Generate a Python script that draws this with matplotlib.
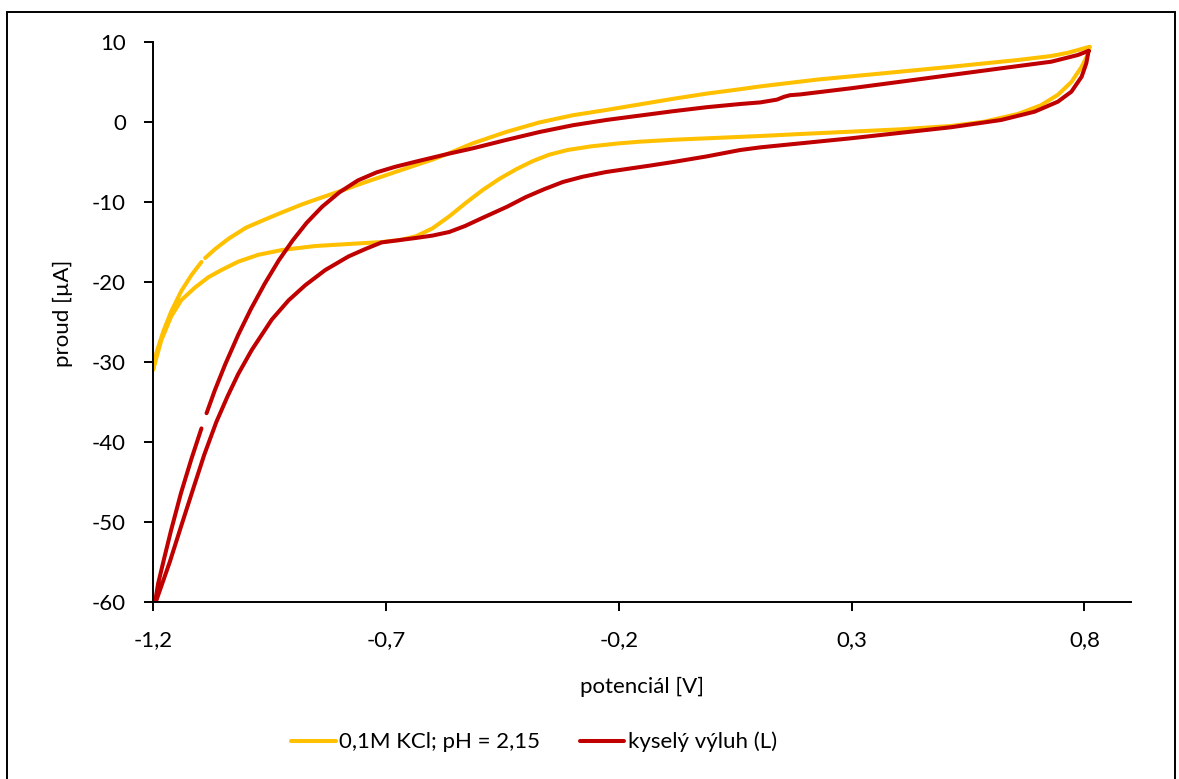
import matplotlib
matplotlib.use('Agg')
import matplotlib.pyplot as plt
from matplotlib.patches import Rectangle
import numpy as np

plt.rcParams['font.family'] = ['Lato', 'DejaVu Sans']

nan = np.nan

# 0,1M KCl; pH = 2,15  (potential [V], current [uA]) - one loop, gap kept as nan
kcl_v = [0.811, 0.807, 0.794, 0.772, 0.743, 0.707, 0.657, 0.585, 0.513, 0.406,
         0.298, 0.190, 0.104, -0.011, -0.083, -0.155, -0.205, -0.260, -0.310, -0.350,
         -0.385, -0.420, -0.456, -0.492, -0.528, -0.564, -0.600, -0.636, -0.670, -0.708,
         -0.780, -0.851, -0.923, -0.974, -1.017, -1.053, -1.081, -1.110, -1.139, -1.161,
         -1.182, -1.200,
         -1.193, -1.178, -1.161, -1.139, -1.117, -1.096, nan,
         -1.088, -1.067, -1.038, -1.000, -0.960, -0.923, -0.880, -0.851, -0.801, -0.743,
         -0.672, -0.600, -0.564, -0.515, -0.442, -0.370, -0.298, -0.227, -0.155, -0.083,
         -0.011, 0.061, 0.104, 0.226, 0.370, 0.513, 0.657, 0.729, 0.765, 0.811]
kcl_i = [9.4, 8.4, 6.9, 5.0, 3.4, 2.1, 1.0, 0.04, -0.5, -0.91,
         -1.21, -1.5, -1.75, -2.04, -2.22, -2.46, -2.7, -3.05, -3.5, -4.1,
         -4.9, -5.9, -7.1, -8.5, -10.1, -11.8, -13.3, -14.3, -14.75, -15.0,
         -15.25, -15.5, -16.0, -16.6, -17.46, -18.5, -19.4, -20.7, -22.25, -24.3,
         -27.25, -31.0,
         -28.9, -26.2, -23.7, -21.1, -19.1, -17.5, nan,
         -17.0, -15.9, -14.6, -13.2, -12.2, -11.3, -10.3, -9.7, -8.7, -7.5,
         -6.1, -4.7, -3.9, -2.7, -1.25, -0.05, 0.85, 1.5, 2.2, 2.9,
         3.55, 4.1, 4.45, 5.3, 6.1, 6.9, 7.75, 8.25, 8.66, 9.4]

# kyselý výluh (L)
leach_v = [0.809, 0.804, 0.794, 0.772, 0.743, 0.693, 0.621, 0.513, 0.298, 0.104,
           0.061, -0.011, -0.083, -0.133, -0.180, -0.227, -0.278, -0.320, -0.360, -0.400,
           -0.440, -0.493, -0.530, -0.564, -0.600, -0.636, -0.709, -0.745, -0.780, -0.830,
           -0.873, -0.909, -0.945, -0.988, -1.017, -1.040, -1.064, -1.090, -1.114, -1.140,
           -1.164, -1.197,
           -1.189, -1.175, -1.161, -1.140, -1.118, -1.096, nan,
           -1.085, -1.067, -1.045, -1.017, -0.990, -0.960, -0.930, -0.900, -0.870, -0.837,
           -0.800, -0.760, -0.720, -0.680, -0.636, -0.564, -0.514, -0.442, -0.370, -0.298,
           -0.227, -0.155, -0.083, -0.011, 0.061, 0.104, 0.140, 0.155, 0.168, 0.190,
           0.298, 0.406, 0.513, 0.621, 0.729, 0.786, 0.809]
leach_i = [8.9, 7.34, 5.66, 3.79, 2.54, 1.29, 0.25, -0.66, -2.04, -3.17,
           -3.5, -4.3, -5.0, -5.45, -5.85, -6.25, -6.85, -7.5, -8.4, -9.4,
           -10.6, -12.0, -13.0, -13.75, -14.2, -14.5, -15.05, -15.9, -16.8, -18.5,
           -20.4, -22.3, -24.7, -28.5, -31.5, -34.3, -37.5, -41.6, -45.9, -50.6,
           -55.0, -60.5,
           -57.7, -54.3, -51.0, -46.4, -42.2, -38.3, nan,
           -36.4, -33.5, -30.3, -26.6, -23.4, -20.2, -17.3, -14.8, -12.6, -10.6,
           -8.8, -7.3, -6.3, -5.6, -4.96, -3.95, -3.3, -2.25, -1.25, -0.4,
           0.25, 0.8, 1.35, 1.85, 2.25, 2.45, 2.8, 3.15, 3.35, 3.45,
           4.21, 5.04, 5.875, 6.71, 7.54, 8.375, 8.9]

x_ticks = [-1.2, -0.7, -0.2, 0.3, 0.8]
x_ticklabels = ['-1,2', '-0,7', '-0,2', '0,3', '0,8']
y_ticks = [-60, -50, -40, -30, -20, -10, 0, 10]

W, H = 1179, 779
fig = plt.figure(figsize=(W / 100, H / 100), dpi=100)
ax = fig.add_axes([153 / W, 1 - 602 / H, (1131 - 153) / W, (602 - 42) / H])

ax.plot(kcl_v, kcl_i, color='#FFC000', lw=2.9, solid_capstyle='round',
        solid_joinstyle='round', label='0,1M KCl; pH = 2,15')
ax.plot(leach_v, leach_i, color='#C00000', lw=2.9, solid_capstyle='round',
        solid_joinstyle='round', label='kyselý výluh (L)')

ax.set_xlim(-1.2, 0.9)
ax.set_ylim(-60, 10)
ax.set_xticks(x_ticks)
ax.set_xticklabels(x_ticklabels)
ax.set_yticks(y_ticks)
ax.set_yticklabels([str(v) for v in y_ticks])

for s in ['top', 'right']:
    ax.spines[s].set_visible(False)
for s in ['left', 'bottom']:
    ax.spines[s].set_linewidth(1.4)
    ax.spines[s].set_color('black')

ax.tick_params(axis='both', direction='out', length=6.5, width=1.4, labelsize=16,
               colors='black')
ax.tick_params(axis='y', pad=13)
ax.tick_params(axis='x', pad=14)

fig.text(642 / W, 1 - 687 / H, 'potenciál [V]', ha='center', va='center', fontsize=16)
fig.text(63 / W, 1 - 313 / H, 'proud [µA]', ha='center', va='center', fontsize=16,
         rotation=90)

fig.legend(loc='center', bbox_to_anchor=(534 / W, 1 - 742 / H), ncol=2, frameon=False,
           fontsize=16, handlelength=2.0, handletextpad=0.15, columnspacing=1.8)

fig.add_artist(Rectangle((7 / W, -0.01), (1175 - 7) / W, (779 - 12) / H + 0.01,
                         transform=fig.transFigure, fill=False, lw=1.4, ec='black'))

fig.savefig('out.png', dpi=100)
